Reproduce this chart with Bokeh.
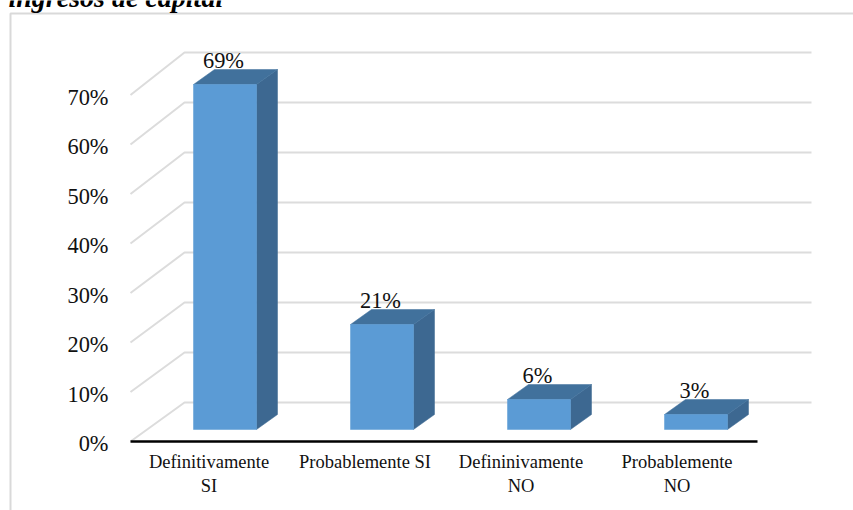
from bokeh.plotting import figure
from bokeh.models import (Range1d, LinearAxis, FixedTicker, Label, BoxAnnotation)
from bokeh.core.properties import value
from bokeh.embed import file_html
from bokeh.resources import INLINE

categories = ["Definitivamente\nSI", "Probablemente SI", "Defininivamente\nNO", "Probablemente\nNO"]
values = [69, 21, 6, 3]
bar_labels = ["69%", "21%", "6%", "3%"]
y_ticks = [0, 10, 20, 30, 40, 50, 60, 70]
y_tick_labels = ["0%", "10%", "20%", "30%", "40%", "50%", "60%", "70%"]
title_text = "ingresos de capital"

W, H = 853, 510
BOTTOM = 441
SERIF = "Liberation Serif"

# pixel geometry of the pseudo-3D scene
X0, XU = 224.5, 157.0     # bar centre and spacing
Y0, YU = 429.0, 5.0       # front plane zero and px per percent
BAR_W = 63 / XU
DX = 21 / XU              # bar depth in x units
DY = 15 / YU              # bar depth in percent units

p = figure(width=W, height=H, output_backend="svg", toolbar_location=None,
           x_range=Range1d(-X0 / XU, (W - X0) / XU),
           y_range=Range1d((Y0 - H) / YU, Y0 / YU),
           min_border_left=0, min_border_right=0, min_border_top=0,
           min_border_bottom=0, x_axis_type=None, y_axis_type=None,
           margin=(0, 0, 0, 0))
p.grid.visible = False
p.outline_line_color = None
p.background_fill_color = "white"
p.border_fill_color = "white"

# axis scales
AX_U = 4.95
AX_Z = 443.0
p.extra_y_ranges["ax"] = Range1d((AX_Z - H) / AX_U, AX_Z / AX_U)
p.extra_x_ranges["cat"] = Range1d(-208.5 / 156, (W - 208.5) / 156)

ya = LinearAxis(y_range_name="ax", ticker=FixedTicker(ticks=y_ticks),
                fixed_location=(115 - X0) / XU,
                major_label_overrides=dict(zip(y_ticks, y_tick_labels)),
                axis_line_color=None, major_tick_line_color=None, minor_tick_line_color=None,
                major_label_text_font=SERIF, major_label_text_font_size="22.4px",
                major_label_text_color="#111111", major_label_standoff=1)
p.add_layout(ya, "left")

xa = LinearAxis(x_range_name="cat", ticker=FixedTicker(ticks=list(range(len(categories)))),
                fixed_location=(Y0 - BOTTOM) / YU,
                major_label_overrides=dict(enumerate(categories)),
                axis_line_color=None, major_tick_line_color=None, minor_tick_line_color=None,
                major_label_text_font=SERIF, major_label_text_font_size="18.5px",
                major_label_text_color="#111111", major_label_standoff=4)
p.add_layout(xa, "below")

# perspective gridlines
back = (Y0 - 402) / YU
gx0, gx1, gx2 = (130 - X0) / XU, (184 - X0) / XU, (811 - X0) / XU
for t in y_ticks:
    front = (Y0 - (BOTTOM - AX_U * t)) / YU
    p.line([gx0, gx1, gx2], [front, t + back, t + back], line_color="#dcdcdc", line_width=2)

# baseline
p.line([(130 - X0) / XU, (757 - X0) / XU], [(Y0 - BOTTOM) / YU] * 2, line_color="black", line_width=2.5)

# 3D bars
for i, v in enumerate(values):
    l, r = i - BAR_W / 2, i + BAR_W / 2
    p.patch([r, r + DX, r + DX, r], [0, DY, v + DY, v], fill_color="#3d6891", line_color="#3d6891", line_width=0.5)
    p.patch([l, r, r + DX, l + DX], [v, v, v + DY, v + DY], fill_color="#41719c", line_color="#41719c", line_width=0.5)
    p.quad(left=l, right=r, bottom=0, top=v, fill_color="#5b9bd5", line_color="#5b9bd5", line_width=0.5)

p.text(x=list(range(len(values))), y=[v + DY for v in values], text=bar_labels,
       text_font=value(SERIF), text_font_size="22.4px", text_color="#111111",
       text_align="center", text_baseline="alphabetic", x_offset=-1.5, y_offset=-9)

# chart frame and clipped heading of the source picture
p.add_layout(BoxAnnotation(left=10, right=W + 10, top=13, bottom=H + 10,
                           left_units="canvas", right_units="canvas", top_units="canvas", bottom_units="canvas",
                           fill_color=None, fill_alpha=0, line_color="#d9d9d9", line_alpha=1, line_width=2))
p.add_layout(Label(x=8, y=-3, x_units="canvas", y_units="canvas", text=title_text,
                   text_font=SERIF, text_font_style="bold italic", text_font_size="28px",
                   text_color="black", text_baseline="alphabetic"))

open("out.html", "w").write(file_html(p, INLINE))
